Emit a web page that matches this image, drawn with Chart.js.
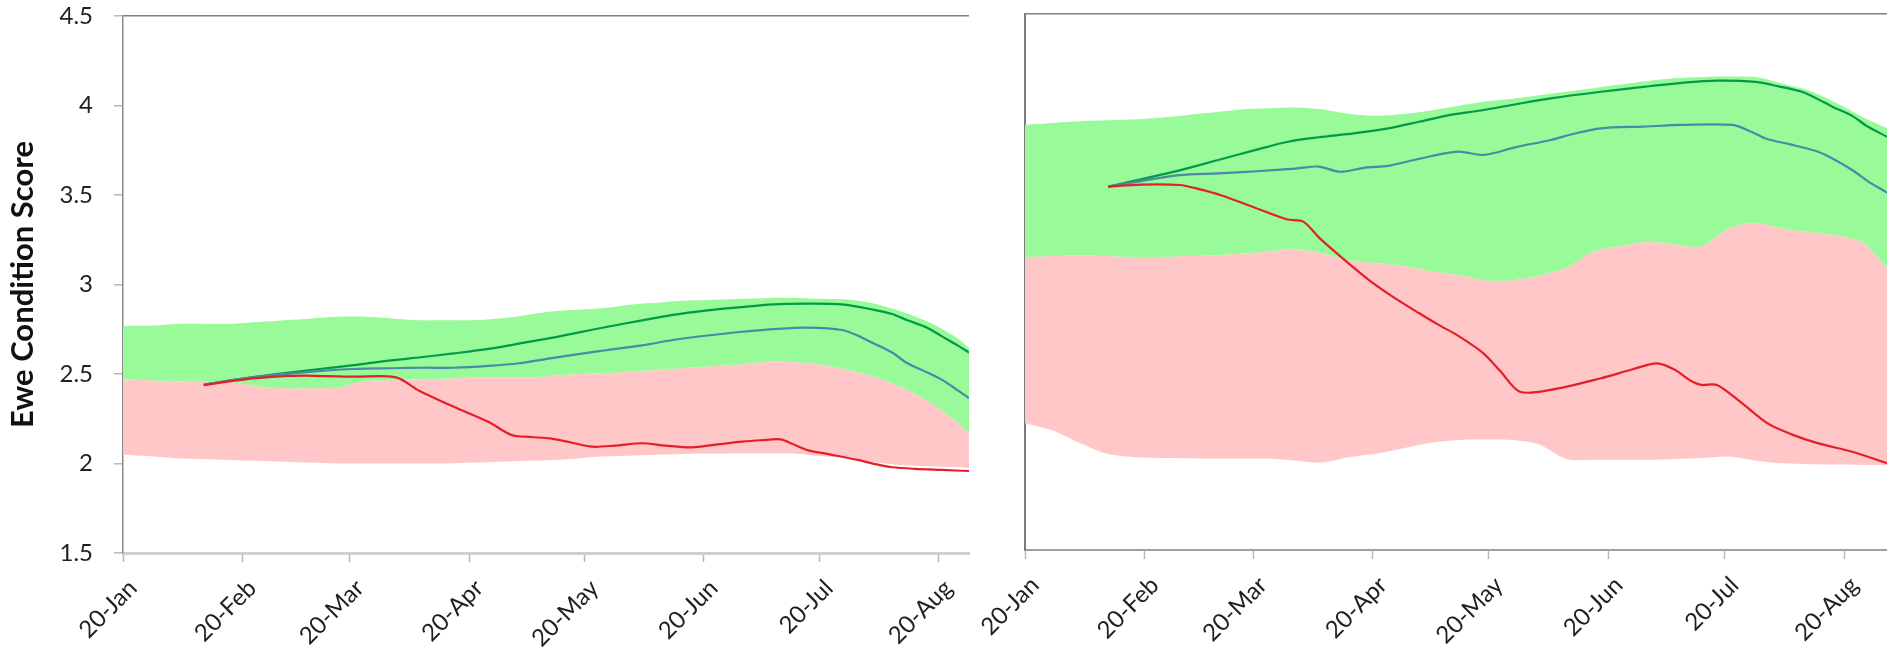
<!DOCTYPE html>
<html>
<head>
<meta charset="utf-8">
<script src="https://cdn.jsdelivr.net/npm/chart.js@4.4.0/dist/chart.umd.min.js"></script>
<style>
  html, body { margin: 0; padding: 0; background: #fff; overflow: hidden; width: 1887px; height: 655px; }
  canvas { position: absolute; top: 0; }
  #leftPanel { left: 0; }
  #rightPanel { left: 940px; }
</style>
</head>
<body>
<canvas id="leftPanel" width="1000" height="655"></canvas>
<canvas id="rightPanel" width="947" height="655"></canvas>
<script>
// X axis: days counted from 20 January
const tickDays = [0, 31, 59, 90, 120, 151, 181, 212];
const tickLabels = ['20-Jan', '20-Feb', '20-Mar', '20-Apr', '20-May', '20-Jun', '20-Jul', '20-Aug'];
const scoreTicks = [1.5, 2, 2.5, 3, 3.5, 4, 4.5];

// ---- Left panel ----
const leftBandDays = [0, 7, 14, 21, 28, 35, 42, 49, 56, 63, 70, 77, 84, 91, 98, 105, 112, 119, 126, 133, 140, 147, 154, 161, 168, 175, 182, 189, 196, 203, 210, 217, 220];
const leftGreenUpper = [2.77, 2.77, 2.78, 2.78, 2.78, 2.79, 2.80, 2.81, 2.82, 2.82, 2.81, 2.80, 2.80, 2.80, 2.81, 2.83, 2.85, 2.86, 2.87, 2.89, 2.90, 2.91, 2.915, 2.92, 2.925, 2.925, 2.92, 2.915, 2.89, 2.845, 2.785, 2.70, 2.645];
const leftBandSplit = [2.47, 2.465, 2.46, 2.46, 2.455, 2.43, 2.42, 2.42, 2.425, 2.46, 2.465, 2.47, 2.475, 2.48, 2.48, 2.48, 2.49, 2.50, 2.505, 2.515, 2.525, 2.535, 2.545, 2.555, 2.57, 2.565, 2.55, 2.52, 2.48, 2.42, 2.34, 2.23, 2.17];
const leftPinkLower = [2.05, 2.04, 2.03, 2.025, 2.02, 2.015, 2.01, 2.005, 2.0, 2.0, 2.0, 2.0, 2.0, 2.005, 2.01, 2.015, 2.02, 2.03, 2.04, 2.045, 2.05, 2.055, 2.055, 2.057, 2.057, 2.055, 2.04, 2.03, 2.005, 1.99, 1.985, 1.98, 1.975];

const leftGreenDays = [21, 28, 35, 42, 50, 60, 69, 78, 86, 95, 103, 111, 118, 126, 135, 143, 152, 160, 169, 178, 187, 195, 200, 204, 209, 213, 217, 220];
const leftGreenScore = [2.44, 2.465, 2.485, 2.505, 2.525, 2.55, 2.575, 2.595, 2.615, 2.64, 2.67, 2.70, 2.73, 2.764, 2.80, 2.83, 2.855, 2.872, 2.889, 2.893, 2.889, 2.86, 2.835, 2.80, 2.76, 2.71, 2.66, 2.62];
const leftBlueDays = [21, 28, 35, 42, 50, 60, 70, 78, 86, 95, 103, 111, 118, 126, 135, 143, 152, 161, 170, 178, 187, 191, 195, 200, 204, 209, 213, 217, 220];
const leftBlueScore = [2.44, 2.465, 2.485, 2.50, 2.515, 2.528, 2.532, 2.535, 2.535, 2.545, 2.56, 2.587, 2.61, 2.634, 2.66, 2.69, 2.715, 2.736, 2.752, 2.759, 2.746, 2.715, 2.673, 2.62, 2.56, 2.51, 2.467, 2.41, 2.366];
const leftRedDays = [21, 28, 34, 43, 50, 60, 71, 77, 86, 95, 101, 106, 111, 116, 122, 128, 135, 141, 148, 154, 161, 166, 171, 174, 178, 184, 191, 196, 200, 206, 213, 220];
const leftRedScore = [2.438, 2.46, 2.476, 2.489, 2.49, 2.485, 2.481, 2.407, 2.317, 2.233, 2.159, 2.148, 2.14, 2.12, 2.094, 2.10, 2.113, 2.10, 2.09, 2.105, 2.122, 2.13, 2.135, 2.11, 2.075, 2.05, 2.02, 1.995, 1.979, 1.97, 1.964, 1.958];

// ---- Right panel ----
const rightBandDays = [0, 7, 14, 21, 28, 35, 42, 49, 56, 63, 70, 77, 84, 91, 98, 105, 112, 119, 126, 133, 140, 147, 154, 161, 168, 175, 182, 189, 196, 203, 210, 217, 220, 223];
const rightGreenUpper = [3.88, 3.89, 3.90, 3.905, 3.91, 3.92, 3.935, 3.95, 3.965, 3.972, 3.976, 3.965, 3.94, 3.93, 3.94, 3.96, 3.985, 4.01, 4.025, 4.045, 4.065, 4.085, 4.105, 4.125, 4.14, 4.148, 4.15, 4.147, 4.11, 4.07, 4.00, 3.92, 3.89, 3.86];
const rightBandSplit = [3.14, 3.145, 3.15, 3.145, 3.14, 3.14, 3.145, 3.15, 3.16, 3.17, 3.185, 3.16, 3.12, 3.105, 3.09, 3.06, 3.04, 3.01, 3.01, 3.035, 3.08, 3.17, 3.20, 3.225, 3.21, 3.20, 3.30, 3.33, 3.30, 3.28, 3.26, 3.22, 3.15, 3.08];
const rightPinkLower = [2.21, 2.17, 2.10, 2.04, 2.02, 2.015, 2.014, 2.012, 2.012, 2.012, 2.00, 1.99, 2.02, 2.04, 2.07, 2.10, 2.116, 2.118, 2.115, 2.09, 2.01, 2.005, 2.005, 2.005, 2.01, 2.015, 2.023, 2.00, 1.985, 1.98, 1.978, 1.976, 1.976, 1.975];

const rightGreenDays = [21.5, 27, 33, 40, 50, 59, 68, 76, 85, 94, 102, 110, 118, 127, 136, 149, 162, 170, 179, 189, 195, 201, 205, 209, 214, 218, 223];
const rightGreenScore = [3.534, 3.56, 3.59, 3.625, 3.683, 3.735, 3.785, 3.81, 3.832, 3.86, 3.897, 3.935, 3.96, 3.995, 4.028, 4.065, 4.097, 4.115, 4.127, 4.12, 4.095, 4.065, 4.025, 3.98, 3.93, 3.87, 3.813];
const rightBlueDays = [21.5, 30, 40, 50, 60, 70, 76, 81.5, 88, 94, 102, 112, 118.6, 127, 136, 142, 149, 160, 170, 183, 188, 192, 198, 205, 209, 214, 218, 223];
const rightBlueScore = [3.534, 3.565, 3.598, 3.608, 3.62, 3.635, 3.646, 3.617, 3.64, 3.65, 3.69, 3.73, 3.711, 3.755, 3.795, 3.83, 3.86, 3.87, 3.879, 3.879, 3.84, 3.80, 3.77, 3.73, 3.69, 3.627, 3.565, 3.50];
const rightRedDays = [21.5, 30, 40, 45, 50.5, 59, 67.7, 72, 76, 80.7, 89, 95, 102, 107, 112, 118.6, 123, 128, 136, 149, 157, 163.5, 168, 172, 175, 179, 185, 192, 198, 205, 214, 223];
const rightRedScore = [3.534, 3.545, 3.543, 3.52, 3.487, 3.42, 3.351, 3.338, 3.25, 3.16, 3.011, 2.92, 2.825, 2.76, 2.70, 2.601, 2.50, 2.386, 2.396, 2.461, 2.51, 2.545, 2.51, 2.45, 2.424, 2.424, 2.33, 2.21, 2.15, 2.098, 2.05, 1.986];

const GREEN_FILL = '#98fa98';
const PINK_FILL = '#ffc7c7';
const GREEN_LINE = '#009a48';
const BLUE_LINE = '#4a8aa6';
const RED_LINE = '#e41f2b';
const FONT = 'Lato, "Open Sans", sans-serif';

const toPoints = (days, values) => days.map((d, i) => ({ x: d, y: values[i] }));

function bandSet(days, values, fill, color) {
  return {
    data: toPoints(days, values),
    borderWidth: 0,
    pointRadius: 0,
    fill: fill,
    backgroundColor: color,
    borderColor: 'rgba(0,0,0,0)',
    tension: 0.3,
    order: 3
  };
}

function lineSet(days, values, color, order) {
  return {
    data: toPoints(days, values),
    borderColor: color,
    borderWidth: 2.2,
    pointRadius: 0,
    fill: false,
    tension: 0.3,
    order: order
  };
}

function buildPanel(canvasId, p) {
  new Chart(document.getElementById(canvasId), {
    type: 'line',
    data: {
      datasets: [
        bandSet(p.bandDays, p.greenUpper, '+1', GREEN_FILL),
        bandSet(p.bandDays, p.split, '+1', PINK_FILL),
        bandSet(p.bandDays, p.pinkLower, false, 'rgba(0,0,0,0)'),
        lineSet(p.greenDays, p.greenScore, GREEN_LINE, 2),
        lineSet(p.blueDays, p.blueScore, BLUE_LINE, 1),
        lineSet(p.redDays, p.redScore, RED_LINE, 0)
      ]
    },
    options: {
      responsive: false,
      animation: false,
      events: [],
      layout: { padding: p.padding },
      plugins: { legend: { display: false }, tooltip: { enabled: false } },
      scales: {
        x: {
          type: 'linear',
          min: 0,
          max: p.xMax,
          afterBuildTicks: (s) => { s.ticks = tickDays.map(v => ({ value: v })); },
          afterFit: (s) => { s.height = p.xHeight; },
          ticks: {
            autoSkip: false,
            maxRotation: 45,
            minRotation: 45,
            padding: 12,
            labelOffset: 10,
            color: '#1f1f1f',
            font: { family: FONT, size: 24 },
            callback: (v) => { const i = tickDays.indexOf(v); return i >= 0 ? tickLabels[i] : ''; }
          },
          grid: {
            drawOnChartArea: false,
            drawTicks: true,
            tickLength: 9,
            tickColor: '#b8b8b8',
            tickWidth: 1.5
          },
          border: { display: true, color: p.xBorderColor, width: p.xBorderWidth }
        },
        y: {
          min: 1.5,
          max: 4.5,
          afterBuildTicks: (s) => { s.ticks = scoreTicks.map(v => ({ value: v })); },
          afterFit: (s) => { s.width = p.yWidth; s.paddingTop = 0; s.paddingBottom = 0; },
          ticks: {
            display: p.showYLabels,
            padding: 21,
            color: '#1f1f1f',
            font: { family: FONT, size: 24 },
            callback: (v) => String(v)
          },
          title: {
            display: p.showYLabels,
            text: 'Ewe Condition Score',
            color: '#111',
            font: { family: FONT, size: 31, weight: 'bold' },
            padding: { top: 4, bottom: 0 }
          },
          grid: {
            drawOnChartArea: true,
            drawTicks: p.showYLabels,
            tickLength: 9,
            tickColor: '#b8b8b8',
            lineWidth: 1.5,
            color: (ctx) => (ctx.tick && ctx.tick.value === 4.5) ? '#808080' : 'rgba(0,0,0,0)'
          },
          border: { display: true, color: p.yBorderColor, width: p.yBorderWidth }
        }
      }
    }
  });
}

buildPanel('leftPanel', {
  bandDays: leftBandDays, greenUpper: leftGreenUpper, split: leftBandSplit, pinkLower: leftPinkLower,
  greenDays: leftGreenDays, greenScore: leftGreenScore,
  blueDays: leftBlueDays, blueScore: leftBlueScore,
  redDays: leftRedDays, redScore: leftRedScore,
  xMax: 220, padding: { top: 16, right: 31, bottom: 0, left: 0 },
  xHeight: 102, yWidth: 123, showYLabels: true,
  xBorderColor: '#cfcfcf', xBorderWidth: 3, yBorderColor: '#8a8a8a', yBorderWidth: 1.5
});

buildPanel('rightPanel', {
  bandDays: rightBandDays, greenUpper: rightGreenUpper, split: rightBandSplit, pinkLower: rightPinkLower,
  greenDays: rightGreenDays, greenScore: rightGreenScore,
  blueDays: rightBlueDays, blueScore: rightBlueScore,
  redDays: rightRedDays, redScore: rightRedScore,
  xMax: 223, padding: { top: 14, right: 0, bottom: 0, left: 0 },
  xHeight: 105, yWidth: 85, showYLabels: false,
  xBorderColor: '#a0a0a0', xBorderWidth: 2, yBorderColor: '#7a7a7a', yBorderWidth: 2
});
</script>
</body>
</html>
